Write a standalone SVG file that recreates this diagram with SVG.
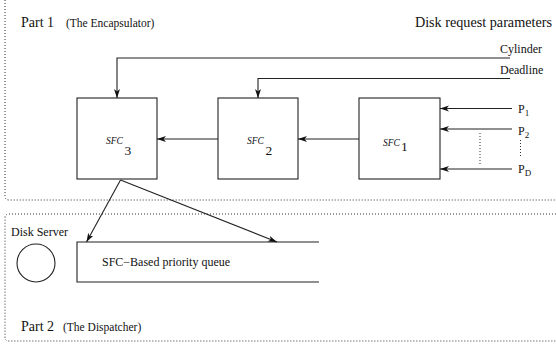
<svg xmlns="http://www.w3.org/2000/svg" width="556" height="347" viewBox="0 0 556 347" font-family="'Liberation Serif', 'DejaVu Serif', serif">
  <style>
    text { font-family: 'Liberation Serif', 'DejaVu Serif', serif; fill: #111; }
    .zone { fill: none; stroke: #333; stroke-width: 1; stroke-dasharray: 1 2; }
    .box { fill: #fff; stroke: #222; stroke-width: 1.1; }
    .wire { fill: none; stroke: #222; stroke-width: 1.1; }
    .dots { fill: none; stroke: #333; stroke-width: 1; stroke-dasharray: 1 2; }
  </style>
  <defs>
    <marker id="arrow" markerUnits="userSpaceOnUse" markerWidth="10" markerHeight="8" refX="9" refY="3" orient="auto">
      <path d="M0,0 L9,3 L0,6 L2.5,3 z" fill="#111"/>
    </marker>
  </defs>

  <rect width="556" height="347" fill="#fff"/>

  <!-- zone outlines -->
  <g id="part1-zone">
    <path class="zone" d="M5,0 V196 Q5,200 9,200 H556"/>
    <text x="21" y="27" font-size="14">Part 1</text>
    <text x="66" y="27" font-size="11.5">(The Encapsulator)</text>
    <text x="552" y="27" font-size="14.2" text-anchor="end">Disk request parameters</text>
  </g>
  <g id="part2-zone">
    <path class="zone" d="M556,214 H9 Q5,214 5,218 V337 Q5,341 9,341 H556"/>
    <text x="21" y="331" font-size="14">Part 2</text>
    <text x="63" y="331" font-size="11.5">(The Dispatcher)</text>
  </g>

  <!-- nodes -->
  <g id="sfc3">
    <rect class="box" x="77" y="98" width="80" height="81"/>
    <text x="106" y="144" font-size="9.5" font-style="italic">SFC</text>
    <text x="124.5" y="155" font-size="13.5">3</text>
  </g>
  <g id="sfc2">
    <rect class="box" x="218" y="98" width="80" height="81"/>
    <text x="247" y="144" font-size="9.5" font-style="italic">SFC</text>
    <text x="265.5" y="155" font-size="13.5">2</text>
  </g>
  <g id="sfc1">
    <rect class="box" x="359" y="98" width="81" height="81"/>
    <text x="383" y="146" font-size="9.5" font-style="italic">SFC</text>
    <text x="401" y="151" font-size="13.5">1</text>
  </g>
  <g id="disk-server">
    <circle cx="36" cy="263" r="19" fill="none" stroke="#222" stroke-width="1.1"/>
    <text x="11" y="236" font-size="12">Disk Server</text>
  </g>
  <g id="priority-queue">
    <path class="wire" d="M319,242 H77 V282 H319"/>
    <text x="102" y="266" font-size="12">SFC−Based priority queue</text>
  </g>
  <g id="inputs">
    <text x="500" y="53" font-size="12">Cylinder</text>
    <text x="500" y="74" font-size="12">Deadline</text>
    <text x="518" y="113" font-size="12">P<tspan font-size="9" dy="3">1</tspan></text>
    <text x="518" y="135" font-size="12">P<tspan font-size="9" dy="3">2</tspan></text>
    <text x="518" y="173" font-size="12">P<tspan font-size="9" dy="2.5">D</tspan></text>
    <path class="dots" d="M520.5,140 V158"/>
  </g>

  <!-- connectors -->
  <g id="connectors">
    <path class="wire" d="M510,58 H117 V98" marker-end="url(#arrow)"/>
    <path class="wire" d="M510,78.5 H258 V98" marker-end="url(#arrow)"/>
    <path class="wire" d="M359,139 H298" marker-end="url(#arrow)"/>
    <path class="wire" d="M218,139 H157" marker-end="url(#arrow)"/>
    <path class="wire" d="M512,108.5 H440" marker-end="url(#arrow)"/>
    <path class="wire" d="M512,129 H440" marker-end="url(#arrow)"/>
    <path class="wire" d="M512,169 H440" marker-end="url(#arrow)"/>
    <path class="dots" d="M480,133 V165"/>
    <path class="wire" d="M120.5,180 L86.5,242" marker-end="url(#arrow)"/>
    <path class="wire" d="M120.5,180 L277,242" marker-end="url(#arrow)"/>
  </g>
</svg>
